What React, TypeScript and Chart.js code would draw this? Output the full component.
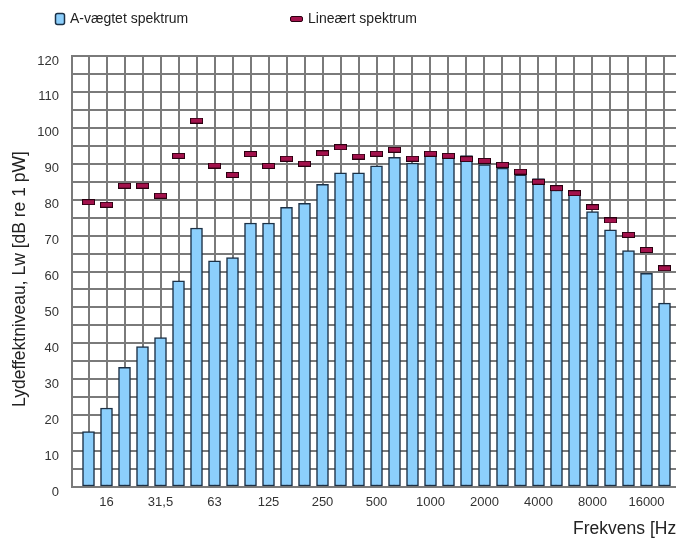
import React, { useEffect, useRef } from 'react';
import { Chart, registerables } from 'chart.js';

Chart.register(...registerables);

// 1/3-octave band centre frequencies (Hz)
const bands = [
  '12,5', '16', '20', '25', '31,5', '40', '50', '63', '80', '100', '125',
  '160', '200', '250', '315', '400', '500', '630', '800', '1000', '1250',
  '1600', '2000', '2500', '3150', '4000', '5000', '6300', '8000', '10000',
  '12500', '16000', '20000',
];
// labels shown on the x axis
const tickLabels = ['16', '31,5', '63', '125', '250', '500', '1000', '2000', '4000', '8000', '16000'];

// A-weighted spectrum (bars), dB re 1 pW
const aWeighted = [
  15.4, 22.0, 33.3, 39.1, 41.6, 57.4, 72.1, 63.0, 63.9, 73.5, 73.5,
  77.9, 79.0, 84.3, 87.5, 87.5, 89.4, 91.8, 90.2, 92.5, 91.8,
  92.3, 89.8, 88.8, 86.9, 85.9, 82.7, 81.5, 76.7, 71.6, 65.8, 59.5, 51.2,
];
// Linear spectrum (dash markers), dB re 1 pW
const linear = [
  79.3, 78.6, 83.9, 83.9, 81.1, 92.2, 102.0, 89.5, 86.9, 92.7, 89.4,
  91.4, 90.0, 92.9, 94.6, 92.0, 92.8, 93.9, 91.4, 92.8, 92.2,
  91.3, 90.8, 89.7, 87.8, 85.0, 83.2, 81.8, 77.9, 74.2, 70.2, 66.0, 60.9,
];

const seriesNames = ['A-vægtet spektrum', 'Lineært spektrum'];
const yMin = 0;
const yMax = 120;
const yLabelStep = 10;
const yGridStep = 5;
const xTitle = 'Frekvens [Hz]';
const yTitle = 'Lydeffektniveau, Lw [dB re 1 pW]';

const FONT = "'Liberation Sans', Arial, Helvetica, sans-serif";
const GRID = '#7a7a7a';
const BAR_FILL = '#8ccffc';
const BAR_EDGE = '#1c3146';
const MARK_FILL = '#a3124c';
const MARK_EDGE = '#2a0010';

function makeMarker(): HTMLCanvasElement {
  const c = document.createElement('canvas');
  c.width = 13;
  c.height = 6;
  const g = c.getContext('2d')!;
  g.fillStyle = MARK_FILL;
  g.fillRect(0.5, 0.5, 12, 5);
  g.strokeStyle = MARK_EDGE;
  g.lineWidth = 1;
  g.strokeRect(0.5, 0.5, 12, 5);
  return c;
}

const overlayPlugin = {
  id: 'overlay',
  afterDraw(chart: any) {
    const ctx = chart.ctx as CanvasRenderingContext2D;
    const ds = chart.data.datasets;
    ctx.save();
    // legend item 1 (bars)
    ctx.fillStyle = BAR_FILL;
    ctx.strokeStyle = BAR_EDGE;
    ctx.lineWidth = 1.5;
    ctx.beginPath();
    (ctx as any).roundRect(55.5, 13.5, 9, 11, 2);
    ctx.fill();
    ctx.stroke();
    ctx.font = `14px ${FONT}`;
    ctx.fillStyle = '#222';
    ctx.textAlign = 'left';
    ctx.textBaseline = 'middle';
    ctx.fillText(ds[0].label, 70, 19.5);
    // legend item 2 (markers)
    ctx.fillStyle = MARK_FILL;
    ctx.strokeStyle = MARK_EDGE;
    ctx.lineWidth = 1;
    ctx.beginPath();
    (ctx as any).roundRect(290.5, 16.5, 12, 5, 1.5);
    ctx.fill();
    ctx.stroke();
    ctx.fillStyle = '#222';
    ctx.fillText(ds[1].label, 308, 19.5);
    // y axis title
    ctx.translate(20.5, 279);
    ctx.rotate(-Math.PI / 2);
    ctx.textAlign = 'center';
    ctx.font = `17.5px ${FONT}`;
    ctx.fillText(yTitle, 0, 0);
    ctx.restore();
  },
};

export default function App() {
  const ref = useRef<HTMLCanvasElement>(null);

  useEffect(() => {
    if (!ref.current) return;
    const marker = makeMarker();
    const chart = new Chart(ref.current, {
      type: 'bar',
      data: {
        datasets: [
          {
            type: 'bar',
            label: seriesNames[0],
            data: aWeighted.map((y, i) => ({ x: i, y })),
            backgroundColor: BAR_FILL,
            borderColor: BAR_EDGE,
            borderWidth: 1.5,
            borderSkipped: false,
            barThickness: 12,
            order: 1,
          } as any,
          {
            type: 'line',
            label: seriesNames[1],
            data: linear.map((y, i) => ({ x: i, y })),
            showLine: false,
            pointStyle: marker,
            pointRadius: 6,
            order: 0,
          } as any,
        ],
      },
      options: {
        animation: false,
        responsive: false,
        devicePixelRatio: 1,
        events: [],
        layout: { padding: { top: 56, right: 19, bottom: 0, left: 0 } },
        plugins: {
          legend: { display: false },
          tooltip: { enabled: false },
        },
        scales: {
          x: {
            type: 'linear',
            min: -0.917,
            max: bands.length - 1 + 0.917,
            offset: false,
            afterBuildTicks: (s: any) => {
              s.ticks = bands.map((_, i) => ({ value: i }));
            },
            afterFit: (s: any) => {
              s.height = 59;
            },
            grid: { offset: false, color: GRID, lineWidth: 2, drawTicks: false },
            border: { display: true, color: GRID, width: 2 },
            ticks: {
              autoSkip: false,
              maxRotation: 0,
              minRotation: 0,
              padding: 8,
              color: '#333',
              font: { family: FONT, size: 13 },
              callback: (v: any) => {
                const lab = bands[Math.round(Number(v))];
                return tickLabels.includes(lab) ? lab : '';
              },
            },
            title: {
              display: true,
              text: xTitle,
              align: 'end',
              color: '#222',
              font: { family: FONT, size: 17.5 },
              padding: { top: 0, bottom: 6.5 },
            },
          } as any,
          y: {
            type: 'linear',
            min: yMin,
            max: yMax,
            afterFit: (s: any) => {
              s.width = 72;
            },
            grid: { color: GRID, lineWidth: 2, drawTicks: false },
            border: { display: true, color: GRID, width: 2 },
            ticks: {
              stepSize: yGridStep,
              maxTicksLimit: 100,
              autoSkip: false,
              padding: 13,
              labelOffset: 5,
              color: '#333',
              font: { family: FONT, size: 13 },
              callback: (v: any) => (Number(v) % yLabelStep === 0 ? String(v) : ''),
            },
          } as any,
        },
      },
      plugins: [overlayPlugin],
    } as any);
    return () => chart.destroy();
  }, []);

  return (
    <div
      style={{
        position: 'fixed',
        left: 0,
        top: 0,
        width: 676,
        height: 546,
        overflow: 'hidden',
        background: '#fff',
      }}
    >
      <canvas ref={ref} width={700} height={546} style={{ display: 'block', width: 700, height: 546 }} />
    </div>
  );
}
